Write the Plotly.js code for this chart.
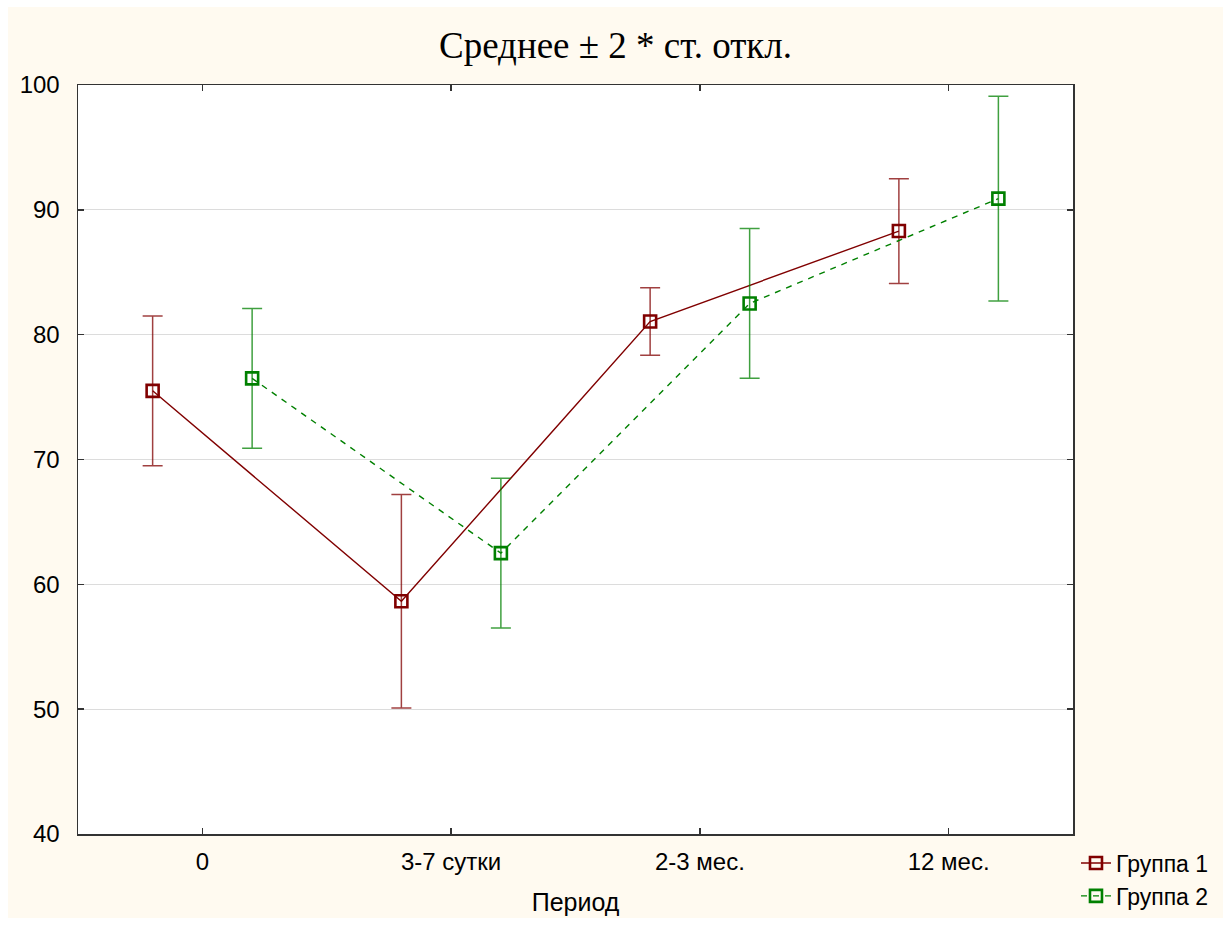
<!DOCTYPE html>
<html>
<head>
<meta charset="utf-8">
<script src="https://cdn.plot.ly/plotly-3.0.1.min.js"></script>
<style>
  html, body { margin: 0; padding: 0; background: #ffffff; }
  #chart { position: absolute; left: 8px; top: 7px; width: 1215px; height: 911px; }
</style>
</head>
<body>
<div id="chart"></div>
<script>
// Periods of observation
const periods = ['0', '3-7 сутки', '2-3 мес.', '12 мес.'];

// Group 1: mean and 2*SD
const group1Mean = [75.5, 58.65, 81.05, 88.3];
const group1Err  = [6.0, 8.55, 2.7, 4.2];

// Group 2: mean and 2*SD
const group2Mean = [76.5, 62.5, 82.5, 90.9];
const group2Err  = [5.6, 6.0, 6.0, 8.2];

const yTicks = [40, 50, 60, 70, 80, 90, 100];

// each group is drawn shifted slightly left/right of its period
const idx = periods.map((_, i) => i);
const shift = 0.2;

function series(name, means, errs, dx, color, errColor, dash) {
  return {
    type: 'scatter',
    mode: 'lines+markers',
    name: name,
    x: idx.map(i => i + dx),
    y: means,
    line: { color: color, width: 1.4, dash: dash },
    marker: { symbol: 'square-open', size: 12, color: color, line: { color: color, width: 2.6 } },
    error_y: { type: 'data', array: errs, visible: true, color: errColor, thickness: 1.5, width: 10 }
  };
}

const data = [
  series('Группа 1', group1Mean, group1Err, -shift, '#800000', 'rgba(128,0,0,0.75)', 'solid'),
  series('Группа 2', group2Mean, group2Err, shift, '#008000', 'rgba(0,128,0,0.75)', '6px,6px')
];

const layout = {
  width: 1215,
  height: 911,
  paper_bgcolor: '#fffaf0',
  plot_bgcolor: '#ffffff',
  margin: { l: 70, r: 150, t: 78, b: 84, autoexpand: false },
  font: { family: '"Liberation Sans", Arial, sans-serif', size: 24, color: '#000000' },
  title: {
    text: 'Среднее ± 2 * ст. откл.',
    font: { family: '"Liberation Serif", "Times New Roman", serif', size: 37, color: '#000000' },
    x: 0.5, xanchor: 'center', xref: 'container',
    y: 0.958, yanchor: 'middle', yref: 'container'
  },
  xaxis: {
    automargin: false,
    range: [-0.5, 3.5],
    tickmode: 'array',
    tickvals: idx,
    ticktext: periods,
    tickfont: { size: 24 },
    ticks: 'inside', ticklen: 6, tickwidth: 1.5, tickcolor: '#333333',
    showgrid: false, zeroline: false,
    showline: true, linecolor: '#333333', linewidth: 1.5, mirror: 'ticks',
    ticklabelstandoff: 6,
    title: { text: 'Период', font: { size: 25 }, standoff: 19 }
  },
  yaxis: {
    automargin: false,
    range: [40, 100],
    tickmode: 'array',
    tickvals: yTicks,
    tickfont: { size: 24 },
    ticks: 'inside', ticklen: 6, tickwidth: 1.5, tickcolor: '#333333',
    showgrid: true, gridcolor: '#dcdcdc', gridwidth: 1.2, zeroline: false,
    showline: true, linecolor: '#333333', linewidth: 1.5, mirror: 'ticks',
    ticklabelstandoff: 12
  },
  legend: {
    x: 1.003, xanchor: 'left',
    y: -0.01, yanchor: 'top',
    bgcolor: 'rgba(0,0,0,0)',
    font: { size: 23 },
    itemwidth: 30,
    tracegroupgap: 0
  },
  showlegend: true
};

Plotly.newPlot('chart', data, layout, { displayModeBar: false, staticPlot: true });
</script>
</body>
</html>
